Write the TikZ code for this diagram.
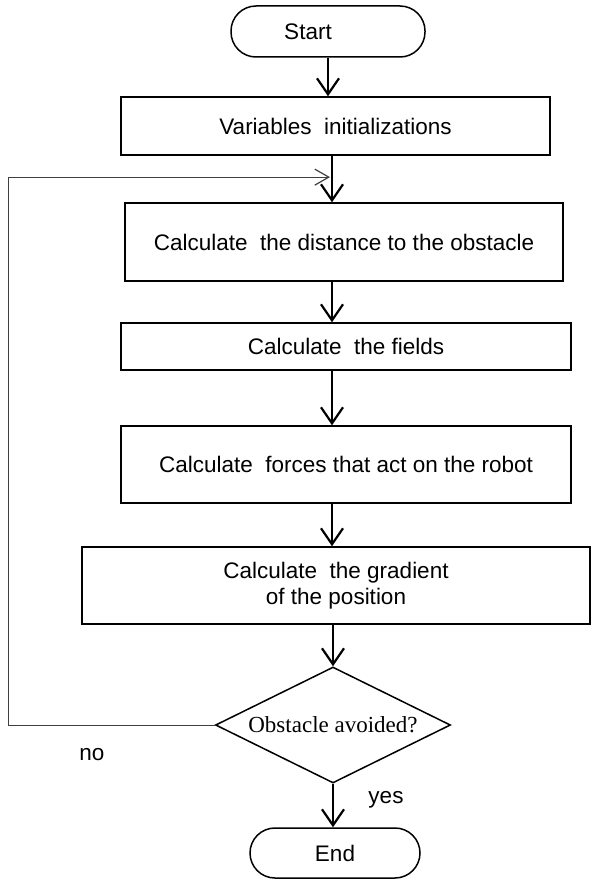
\documentclass[tikz,border=0pt]{standalone}
\usepackage{fontspec}
\setmainfont{Liberation Sans}
\newfontfamily\decisionfont{Liberation Serif}
\usepackage{tikz}
\usetikzlibrary{arrows.meta, shapes.geometric, calc}

\begin{document}
\begin{tikzpicture}[x=1pt, y=-1pt]

              \tikzset{
                basicnode/.style={
                    shape=rectangle,
                    draw=black,
                    line width=1.5pt,
                    fill=white,
                    inner sep=0pt,
                    align=center,
                    font=\fontsize{22.5}{26}\selectfont
                  },
                termnode/.style={
                    basicnode,
                    rounded corners=25pt
                  },
                decnode/.style={
                    basicnode,
                    shape=diamond,
                    aspect=2,
                    font=\fontsize{23}{26}\decisionfont
                  },
                flow/.style={
                    line width=2.2pt,
                    -{Straight Barb[length=16pt, width=22pt, line width=2.2pt]}
                  },
                backflow/.style={
                    line width=1pt,
                    draw=black!75,
                    -{Straight Barb[length=14pt, width=16pt, line width=1.2pt]}
                  },
                graylabel/.style={font=\fontsize{22.5}{26}\selectfont}
              }

              \useasboundingbox (0,0) rectangle (592,883);

              \coordinate (spine) at (332,0);

              \node[termnode, minimum width=194pt, minimum height=51pt] (start) at (328,31.5) {Start\hspace*{40pt}};
              \node[basicnode, minimum width=429pt, minimum height=58pt] (init) at (335.5,126) {Variables\ \ initializations};
              \node[basicnode, minimum width=438pt, minimum height=78pt] (dist) at (344,242) {Calculate\ \ the distance to the obstacle};
              \node[basicnode, minimum width=450pt, minimum height=47pt] (fields) at (346,346.5) {Calculate\ \ the fields};
              \node[basicnode, minimum width=450pt, minimum height=77pt] (forces) at (346,464.5) {Calculate\ \ forces that act on the robot};
              \node[basicnode, minimum width=508pt, minimum height=77pt] (grad) at (336,585.5) {Calculate\ \ the gradient\\of the position};
              \node[decnode, minimum width=235pt, minimum height=116pt] (dec) at (333,725) {Obstacle avoided?};
              \node[termnode, minimum width=170pt, minimum height=50pt] (end) at (335,853) {End};

              % labels of the decision
              \node[graylabel] (no) at (92,755) {no};
              \node[graylabel] (yes) at (386,800) {yes};

              \draw[flow] (start.south -| start) -- (init.north -| start);
              \draw[flow] (init.south -| spine) -- (dist.north -| spine);
              \draw[flow] (dist.south -| spine) -- (fields.north -| spine);
              \draw[flow] (fields.south -| spine) -- (forces.north -| spine);
              \draw[flow] (forces.south -| spine) -- (grad.north -| spine);
              \draw[flow] (grad.south -| dec.north) -- (dec.north);
              \draw[flow] (dec.south) -- (end.north -| dec.south);

              % back to the distance step
              \coordinate (join) at ($(init.south -| spine)!0.46!(dist.north -| spine)$);
              \draw[backflow] (dec.west) -- ++(-206,0) |- ($(join)+(-2,0)$);

            \end{tikzpicture}
\end{document}
